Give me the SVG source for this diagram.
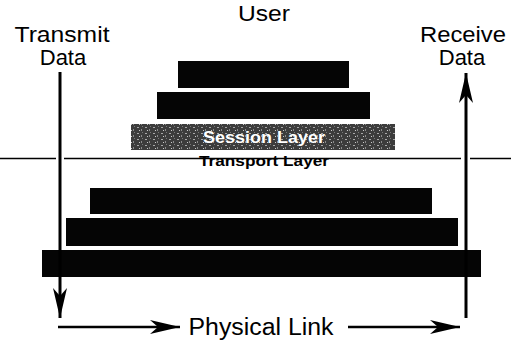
<svg xmlns="http://www.w3.org/2000/svg" width="511" height="341" viewBox="0 0 511 341">
<style>
.lbl{font-family:"Liberation Sans",Arial,sans-serif;fill:#000;text-anchor:middle}
.big{font-size:22px}
.bar{fill:#050505}
.ln{stroke:#000;fill:none}
</style>
<defs>
<pattern id="tex" width="8" height="6" patternUnits="userSpaceOnUse">
<rect width="8" height="6" fill="#3c3c3c"/>
<rect x="1" y="1" width="2" height="1" fill="#a8a8a8"/>
<rect x="5" y="3" width="1" height="2" fill="#8c8c8c"/>
<rect x="3" y="4" width="1" height="1" fill="#c8c8c8"/>
<rect x="6" y="0" width="1" height="1" fill="#777"/>
</pattern>
<marker id="ah" viewBox="0 0 30 14" refX="30" refY="7" markerWidth="30" markerHeight="14" markerUnits="userSpaceOnUse" orient="auto">
<path d="M0,0 L30,7 L0,14 L8,7 Z" fill="#000"/>
</marker>
</defs>

<g id="user"><text class="lbl big" x="264" y="21" textLength="52" lengthAdjust="spacingAndGlyphs">User</text></g>
<g id="transmit"><text class="lbl big" x="62" y="42" textLength="95" lengthAdjust="spacingAndGlyphs">Transmit</text><text class="lbl big" x="63" y="65">Data</text></g>
<g id="receive"><text class="lbl big" x="463" y="42" textLength="86" lengthAdjust="spacingAndGlyphs">Receive</text><text class="lbl big" x="462" y="65">Data</text></g>

<g id="layer7"><rect class="bar" x="178" y="61" width="171" height="27"/></g>
<g id="layer6"><rect class="bar" x="157" y="92" width="213" height="27"/></g>
<g id="layer5"><rect x="131" y="124" width="264" height="26" fill="url(#tex)"/><text class="lbl" x="264" y="143" font-size="17" font-weight="bold" style="fill:#fff" textLength="122" lengthAdjust="spacingAndGlyphs">Session Layer</text></g>
<g id="layer4"><text class="lbl" x="264" y="166" font-size="15" font-weight="bold" textLength="130" lengthAdjust="spacingAndGlyphs">Transport Layer</text></g>
<g id="layer3"><rect class="bar" x="90" y="188" width="342" height="26"/></g>
<g id="layer2"><rect class="bar" x="66" y="218" width="392" height="28"/></g>
<g id="layer1"><rect class="bar" x="42" y="250" width="439" height="27"/></g>

<g id="physical"><text class="lbl" x="261" y="335" font-size="23" textLength="145" lengthAdjust="spacingAndGlyphs">Physical Link</text></g>

<g id="connectors">
<path class="ln" stroke-width="1.5" stroke="#222" d="M0,158.5 H56 M64,158.5 H461 M470,158.5 H511"/>
<path class="ln" stroke-width="3" d="M60,72 V318" marker-end="url(#ah)"/>
<path class="ln" stroke-width="3" d="M466,318 V73" marker-end="url(#ah)"/>
<path class="ln" stroke-width="2.5" d="M58,327 H180" marker-end="url(#ah)"/>
<path class="ln" stroke-width="2.5" d="M348,327 H460" marker-end="url(#ah)"/>
</g>
</svg>
